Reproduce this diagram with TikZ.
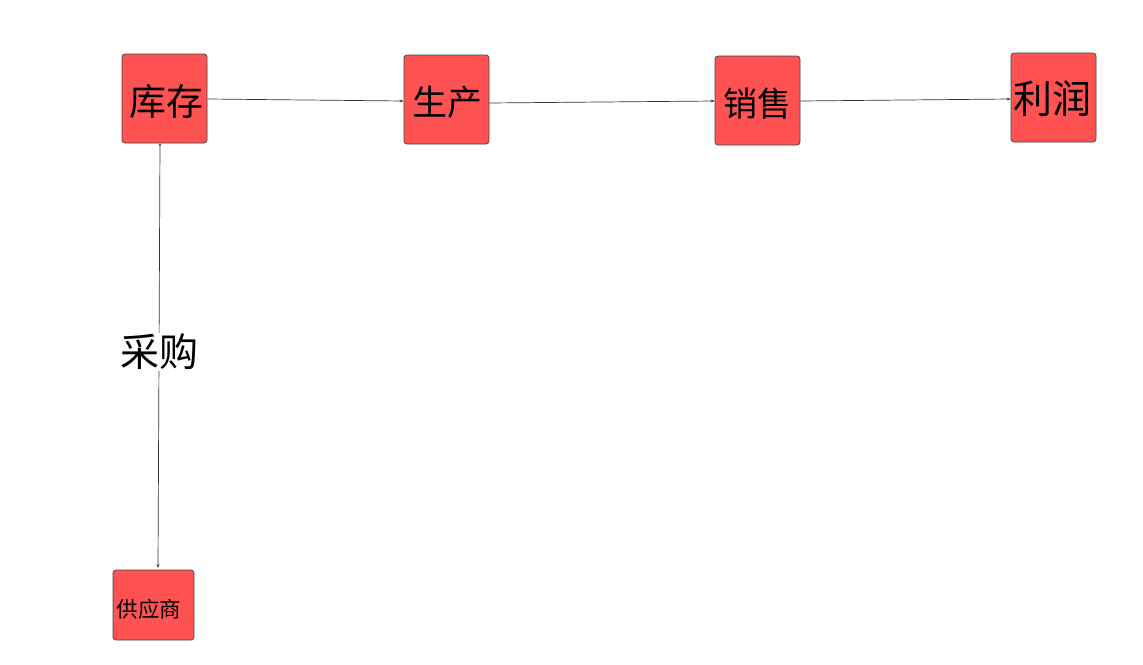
\documentclass[tikz,border=0pt]{standalone}
\usepackage{fontspec}
\newfontfamily\cjk{Noto Sans CJK SC}
\usetikzlibrary{arrows.meta}
\definecolor{boxred}{HTML}{FF5252}
\definecolor{edge}{HTML}{444444}
\begin{document}
\begin{tikzpicture}[x=1pt,y=-1pt,
  box/.style={draw=edge,line width=0.7pt,fill=boxred,rounded corners=3pt,inner sep=0pt,font=\cjk},
  conn/.style={draw=black!80,line width=0.7pt,-{Stealth[length=4pt,width=3pt]}}]
\useasboundingbox (0,0) rectangle (1143,664);
\node[box,minimum width=85pt,minimum height=89pt] (kc) at (164.5,98.5) {};
\node[font=\cjk\fontsize{37pt}{40pt}\selectfont] (kct) at (166,102) {库存};
\node[box,minimum width=85pt,minimum height=89pt] (sc) at (446.5,99.5) {};
\node[font=\cjk\fontsize{35pt}{38pt}\selectfont] (sct) at (447,102) {生产};
\node[box,minimum width=85pt,minimum height=89pt] (xs) at (757.5,100.5) {};
\node[font=\cjk\fontsize{34pt}{37pt}\selectfont] (xst) at (757,104) {销售};
\node[box,minimum width=85pt,minimum height=89pt] (lr) at (1053.5,97.5) {};
\node[font=\cjk\fontsize{39pt}{42pt}\selectfont] (lrt) at (1052,99) {利润};
\node[box,minimum width=81pt,minimum height=70pt] (gys) at (153.5,605) {};
\node[font=\cjk\fontsize{21.5pt}{24pt}\selectfont] (gyst) at (149,609) {供应商};
\coordinate (a1) at (160,143);
\coordinate (a2) at (158,568);
\draw[conn,{Stealth[length=3pt,width=2.5pt]}-{Stealth[length=4pt,width=3pt]}] (a1) -- (a2);
\node[fill=white,inner sep=1pt,font=\cjk\fontsize{39pt}{42pt}\selectfont] (cg) at (159,352) {采购};
\draw[conn] (kc.east |- 0,99) -- (sc.west |- 0,101);
\draw[conn] (sc.east |- 0,103) -- (xs.west |- 0,101);
\draw[conn] (xs.east |- 0,101) -- (lr.west |- 0,99);
\end{tikzpicture}
\end{document}
